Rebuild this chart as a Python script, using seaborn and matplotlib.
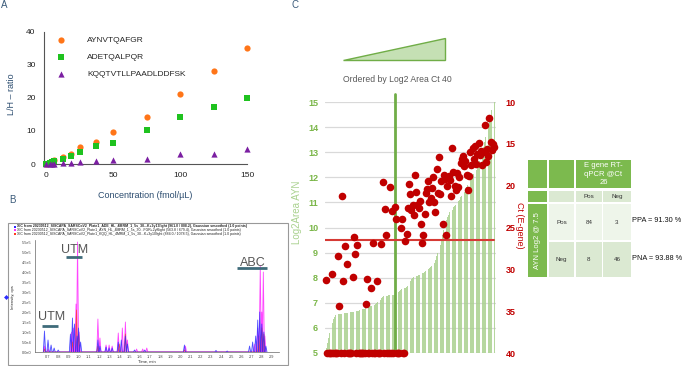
import numpy as np
import pandas as pd
import matplotlib
matplotlib.use("Agg")
import matplotlib.pyplot as plt
import seaborn as sns
from matplotlib.patches import Polygon, Rectangle

# ---------------- A: L/H ratio vs concentracao ----------------
CONC = [0, 3.125, 4.69, 6.25, 12.5, 18.75, 25, 37.5, 50, 75, 100, 125, 150]
LH_AYN = [0, 0.5, 1.0, 1.3, 2.1, 3.0, 5.0, 6.7, 9.6, 14.1, 21.3, 28.1, 35.2]
LH_ADE = [0, 0.3, 0.6, 0.8, 1.6, 2.3, 3.6, 5.5, 6.5, 10.3, 14.2, 17.2, 20.0]
LH_KQQ = [0, 0.0, 0.1, 0.1, 0.2, 0.4, 0.7, 0.8, 1.1, 1.5, 2.9, 3.0, 4.5]
PEPTIDES = ["AYNVTQAFGR", "ADETQALPQR", "KQQTVTLLPAADLDDFSK"]

# ---------------- B: picos dos XICs (tempo em min, intensidade em cps) ----------------
BLUE_T = [0.665, 0.70, 0.73, 0.76, 0.80, 0.92, 0.94, 0.96, 0.985, 1.00, 1.02,
          1.19, 1.21, 1.27, 1.30, 1.33, 1.39, 1.42, 1.46, 1.48, 1.55, 1.65,
          2.04, 2.35, 2.46, 2.68, 2.71, 2.74, 2.76, 2.78, 2.80, 2.82, 2.84]
BLUE_H = [1.05e5, 0.6e5, 0.35e5, 0.2e5, 0.1e5, 0.9e5, 1.7e5, 1.4e5, 0.8e5, 1.2e5, 0.5e5,
          0.6e5, 0.3e5, 0.25e5, 0.2e5, 0.2e5, 0.5e5, 0.6e5, 0.8e5, 0.4e5, 0.1e5, 0.1e5,
          0.35e5, 0.08e5, 0.05e5, 0.3e5, 0.5e5, 0.8e5, 1.6e5, 2.0e5, 1.4e5, 1.0e5, 0.3e5]
MAG_T = [0.665, 0.70, 0.93, 0.95, 0.975, 0.99, 1.005, 1.19, 1.21, 1.27, 1.30, 1.33,
         1.39, 1.43, 1.46, 1.48, 1.57, 1.63, 1.67, 2.05, 2.73, 2.76, 2.785, 2.80, 2.815, 2.83]
MAG_H = [0.3e5, 0.15e5, 1.0e5, 1.2e5, 2.4e5, 5.5e5, 1.0e5, 1.65e5, 0.7e5, 0.35e5, 0.35e5, 0.3e5,
         0.95e5, 1.2e5, 1.5e5, 0.6e5, 0.15e5, 0.15e5, 0.2e5, 0.3e5, 0.4e5, 1.2e5, 4.3e5, 2.0e5, 4.0e5, 0.8e5]
RED_T = [0.665, 0.94, 0.98, 1.00, 1.19, 1.40, 1.46, 2.04, 2.77, 2.80, 2.82]
RED_H = [0.15e5, 0.5e5, 2.1e5, 0.9e5, 0.3e5, 0.4e5, 0.9e5, 0.1e5, 0.8e5, 1.2e5, 0.9e5]
XIC_LABELS = [
    "XIC from 20230512_SISCAPA_SARSCoV2_Plate1_ADE_HL_4MRM_1_5s_30...K+3y13light (961.0 / 808.2), Gaussian smoothed (1.0 points)",
    "XIC from 20230512_SISCAPA_SARSCoV2_Plate1_AYN_HL_4MRM_1_5s_30...FGR+2y8light (563.8 / 679.4), Gaussian smoothed (1.0 points)",
    "XIC from 20230512_SISCAPA_SARSCoV2_Plate1_KQQ_HL_4MRM_1_5s_30...K+3y10light (884.0 / 1078.5), Gaussian smoothed (1.0 points)",
]

# ---------------- C: amostras ordenadas por Log2 area ----------------
AREA_LOG2 = [
    5.2, 5.4, 5.6, 5.8, 6.0, 6.2, 6.35, 6.45, 6.5, 6.52,
    6.55, 6.55, 6.56, 6.57, 6.58, 6.58, 6.59, 6.6, 6.6, 6.61,
    6.62, 6.62, 6.63, 6.64, 6.65, 6.66, 6.67, 6.69, 6.7, 6.72,
    6.74, 6.75, 6.77, 6.79, 6.8, 6.82, 6.84, 6.86, 6.88, 6.9,
    6.93, 6.96, 7.0, 7.04, 7.08, 7.13, 7.18, 7.23, 7.27, 7.28,
    7.29, 7.29, 7.3, 7.3, 7.3, 7.31, 7.31, 7.32, 7.32, 7.35,
    7.42, 7.46, 7.5, 7.53, 7.56, 7.58, 7.6, 7.62, 7.66, 7.75,
    7.85, 7.95, 8.0, 8.02, 8.04, 8.06, 8.08, 8.1, 8.12, 8.14,
    8.17, 8.2, 8.23, 8.26, 8.3, 8.34, 8.38, 8.42, 8.47, 8.52,
    8.6, 8.7, 8.85, 9.0, 9.15, 9.3, 9.5, 9.7, 9.9, 10.1,
    10.3, 10.4, 10.5, 10.6, 10.65, 10.7, 10.8, 10.85, 10.9, 11.0,
    11.05, 11.1, 11.2, 11.25, 11.3, 11.4, 11.5, 11.6, 11.7, 11.85,
    12.0, 12.05, 12.1, 12.15, 12.2, 12.3, 12.4, 12.5, 12.65, 12.8,
    13.0, 13.2, 13.4, 13.6, 13.9, 14.1, 14.3, 14.5, 14.7, 14.85,
    15.0]
CT_EGENE = [
    31.3, 40, 40, 40, 40, 30.5, 40, 40, 40, 40,
    28.4, 34.4, 40, 21.2, 31.4, 40, 27.2, 29.4, 40, 40,
    40, 40, 30.9, 26.1, 28.2, 40, 27.1, 40, 40, 40,
    40, 40, 40, 34.1, 31.1, 40, 40, 32.2, 40, 26.8,
    40, 40, 31.4, 40, 40, 40, 27.0, 19.6, 40, 22.8,
    25.9, 40, 40, 20.2, 40, 23.0, 40, 22.5, 24.0, 40,
    40, 40, 25.1, 24.0, 40, 40, 26.6, 25.8, 22.7, 19.8,
    21.0, 22.9, 22.3, 23.5, 18.7, 20.8, 22.3, 22.7, 21.8, 24.6,
    26.8, 25.9, 23.4, 20.9, 20.4, 19.5, 22.0, 21.5, 20.3, 19.0,
    21.9, 23.2, 18.0, 20.9, 16.6, 21.0, 19.4, 24.6, 18.7, 19.2,
    25.9, 20.0, 18.8, 19.3, 21.2, 15.5, 18.4, 20.0, 20.5, 18.5,
    20.2, 19.0, 17.3, 16.8, 16.4, 17.6, 17.0, 18.7, 20.5, 18.9,
    16.0, 17.5, 15.5, 16.8, 15.3, 17.4, 16.2, 14.9, 16.3, 15.8,
    17.5, 16.0, 12.7, 17.2, 15.6, 16.5, 11.9, 14.8, 15.7, 15.0,
    15.4]
AREA_CUTOFF_IDX = 57.5   # posicao da linha verde (Log2 @ 7.5)
CT_CUTOFF = 26.5
TABLE_COUNTS = [[84, 3], [8, 46]]
TABLE_ROWS = ["Pos", "Neg"]
TABLE_COLS = ["Pos", "Neg"]
PPA_TEXT = "PPA = 91.30 %"
PNA_TEXT = "PNA = 93.88 %"

# ---------------- estilo ----------------
W, H = 685, 366
PEP_COLORS = ["#ff7518", "#1fc21f", "#7b1fa2"]
PEP_MARKERS = ["o", "s", "^"]
LABEL_BLUE = "#2b4c6f"
GREEN = "#77b84c"
LIGHT_GREEN = "#a9d18e"
DARK_RED = "#c00000"

sns.set_style("white")
plt.rcParams["font.family"] = ["Liberation Sans", "DejaVu Sans"]

fig = plt.figure(figsize=(W / 100, H / 100), dpi=100)


def px_axes(left, top, right, bottom):
    return fig.add_axes([left / W, 1 - bottom / H, (right - left) / W, (bottom - top) / H])


def spikes(times, heights, w=0.011):
    xs, ys = [], []
    for t, h in zip(times, heights):
        xs += [t - w, t, t + w]
        ys += [0, h, 0]
    return xs, ys


# ======== Painel A ========
axa = px_axes(44, 29, 250, 164)
for name, vals, c, m in zip(PEPTIDES, [LH_AYN, LH_ADE, LH_KQQ], PEP_COLORS, PEP_MARKERS):
    sns.scatterplot(x=CONC, y=vals, color=c, marker=m, s=20, linewidth=0,
                    ax=axa, label=name, clip_on=False, zorder=3)
axa.set_xlim(-1.5, 152.2)
axa.set_ylim(0, 40.9)
axa.set_xticks([0, 50, 100, 150])
axa.set_yticks([0, 10, 20, 30, 40])
for s in ["top", "right"]:
    axa.spines[s].set_visible(False)
axa.spines["left"].set_bounds(0, 40)
axa.spines["bottom"].set_bounds(-1.5, 150)
for s in ["left", "bottom"]:
    axa.spines[s].set_color("#555555")
    axa.spines[s].set_linewidth(0.8)
axa.tick_params(length=4.5, width=0.8, color="#555555", labelsize=6, labelcolor="#222222", pad=1.5)
axa.set_xlabel("Concentration (fmol/µL)", color=LABEL_BLUE, fontsize=6.5, va="center")
axa.xaxis.set_label_coords(0.49, -0.23)
axa.set_ylabel("L/H – ratio", color=LABEL_BLUE, fontsize=6.5, va="center")
axa.yaxis.set_label_coords(-0.16, 0.52)
axa.legend(loc="upper left", bbox_to_anchor=(0.063, 0.948), frameon=False, fontsize=6,
           handlelength=1, handletextpad=2.6, labelspacing=1.1, borderpad=0, borderaxespad=0)

# ======== Painel B ========
axb = px_axes(35, 240, 279, 352)
for times, heights, c, a in [(MAG_T, MAG_H, "#ff2bff", 0.85), (RED_T, RED_H, "#ff3b1f", 0.8),
                             (BLUE_T, BLUE_H, "#2b2bff", 0.8)]:
    xs, ys = spikes(times, heights)
    axb.fill(xs, ys, color=c, alpha=0.25, lw=0)
    sns.lineplot(x=xs, y=ys, sort=False, estimator=None, color=c, lw=0.6, alpha=a, ax=axb)
axb.set_xlim(0.572, 2.969)
axb.set_ylim(0, 5.6e5)
xt = np.round(np.arange(0.7, 2.91, 0.1), 1)
axb.set_xticks(xt)
axb.set_xticklabels([f"{v:.1f}" for v in xt])
yt = np.arange(0, 5.51e5, 5e4)
axb.set_yticks(yt)
axb.set_yticklabels([f"{v:.1e}".replace("e+0", "e").replace("e+", "e") for v in yt])
axb.tick_params(labelsize=2.8, length=1.5, width=0.4, pad=1, labelcolor="#444444")
for s in ["top", "right"]:
    axb.spines[s].set_visible(False)
for s in ["left", "bottom"]:
    axb.spines[s].set_linewidth(0.5)
    axb.spines[s].set_color("#666666")
axb.set_xlabel("Time, min", fontsize=3, va="center")
axb.xaxis.set_label_coords(0.46, -0.089)
axb.set_ylabel("Intensity, cps", fontsize=3, va="center")
axb.yaxis.set_label_coords(-0.09, 0.49)
for txt, tx, ty, x0, x1, by in [("UTM", 0.96, 5.1e5, 0.877, 1.034, 4.75e5),
                                ("UTM", 0.73, 1.75e5, 0.64, 0.80, 1.3e5),
                                ("ABC", 2.71, 4.45e5, 2.556, 2.85, 4.2e5)]:
    axb.text(tx, ty, txt, ha="center", va="center", fontsize=9, color="#555555")
    axb.plot([x0, x1], [by, by], color="#3f6b7a", lw=2, solid_capstyle="butt")

# ======== Painel C ========
axc = px_axes(325, 102, 496, 353)
idx = np.arange(len(AREA_LOG2))
sns.barplot(x=idx, y=AREA_LOG2, color=LIGHT_GREEN, width=0.8, saturation=1,
            alpha=0.85, edgecolor="none", ax=axc)
axc.set_ylim(5, 15)
axc.set_yticks(range(5, 16))
axc.set_axisbelow(True)
axc.yaxis.grid(True, color="#d9d9d9", lw=0.9)
axc.set_xticks([])
axc.set_xlabel("")
axc.tick_params(axis="y", length=0, labelsize=6.5, labelcolor="#7ab648", pad=5)
for lbl in axc.get_yticklabels():
    lbl.set_fontweight("bold")
axc.axvline(AREA_CUTOFF_IDX, ymin=0, ymax=1.03, color="#70ad47", lw=2, clip_on=False, zorder=3)

axr = axc.twinx()
axr.axhline(CT_CUTOFF, xmin=0, xmax=0.99, color="#d63a35", lw=1.5, zorder=1)
sns.scatterplot(x=idx, y=CT_EGENE, color=DARK_RED, s=30, linewidth=0, ax=axr,
                clip_on=False, zorder=4)
axr.set_ylim(40, 10)
axr.set_yticks(range(10, 41, 5))
axr.set_xlim(-1, 141.5)
axr.tick_params(axis="y", length=0, labelsize=6.5, labelcolor=DARK_RED, pad=7)
for lbl in axr.get_yticklabels():
    lbl.set_fontweight("bold")
for ax in [axc, axr]:
    for s in ax.spines.values():
        s.set_visible(False)
axc.set_ylabel("Log2Area AYN", color=LIGHT_GREEN, fontsize=7, va="center")
axc.yaxis.set_label_coords(-0.165, 0.56)
axr.set_ylabel("Ct (E-gene)", color=DARK_RED, fontsize=6.5, rotation=270, va="center")
axr.yaxis.set_label_coords(1.135, 0.51)

# ======== Sobreposicao: letras, cunha, moldura B, tabela ========
ov = fig.add_axes([0, 0, 1, 1])
ov.set_xlim(0, W)
ov.set_ylim(H, 0)
ov.axis("off")
ov.patch.set_visible(False)

for lt, x, y in [("A", 4, 5), ("B", 12.5, 200), ("C", 295, 5)]:
    ov.text(x, y, lt, fontsize=7, color="#3b5b7a", ha="center", va="center")

ov.add_patch(Polygon([(343, 60), (445, 60), (445, 38)], closed=True,
                     fc="#c5e0b4", ec="#70ad47", lw=1))
ov.text(397, 79, "Ordered by Log2 Area Ct 40", fontsize=6.2, color="#595959",
        ha="center", va="center")

# moldura do cromatograma
ov.add_patch(Rectangle((8, 223), 280, 142, fill=False, ec="#999999", lw=0.8))
for i, (lab, c) in enumerate(zip(XIC_LABELS, ["#2b2bff", "#ff2bff", "#ff3b1f"])):
    y = 226.5 + i * 3.6
    ov.plot(15, y, marker="s", ms=1.6, color=c, mew=0)
    ov.text(17.5, y, lab, fontsize=2.5, va="center", ha="left", color="#222222",
            fontweight="bold" if i == 0 else "normal")
ov.plot(6, 297, marker="D", ms=2.5, color="#2b2bff", mew=0)


def cell(x0, y0, x1, y1, fc, text=None, color="#333333", fs=4.5, rot=0):
    ov.add_patch(Rectangle((x0, y0), x1 - x0, y1 - y0, fc=fc, ec="none"))
    if text is not None:
        ov.text((x0 + x1) / 2, (y0 + y1) / 2, text, ha="center", va="center",
                fontsize=fs, color=color, rotation=rot, linespacing=1.3)


C1, C2, C3, C4 = (528, 547), (549, 574), (576, 602), (603, 631)
R1, R2, R3, R4 = (160, 188), (191, 202), (204, 240), (242, 277)
TG, TL1, TL2 = "#7cba4e", "#eef5ea", "#dbe9d2"
cell(C1[0], R1[0], C1[1], R1[1], TG)
cell(C2[0], R1[0], C2[1], R1[1], TG)
cell(C3[0], R1[0], C4[1], R1[1], TG, "E gene RT-\nqPCR @Ct\n26", "white", 5.5)
cell(C1[0], R2[0], C1[1], R2[1], TG)
cell(C2[0], R2[0], C2[1], R2[1], TL2)
cell(C3[0], R2[0], C3[1], R2[1], TL2, TABLE_COLS[0])
cell(C4[0], R2[0], C4[1], R2[1], TL2, TABLE_COLS[1])
cell(C1[0], R3[0], C1[1], R4[1], TG, "AYN Log2 @ 7.5", "white", 5.5, 90)
for (r0, r1), fc, rlab, counts in [(R3, TL1, TABLE_ROWS[0], TABLE_COUNTS[0]),
                                   (R4, TL2, TABLE_ROWS[1], TABLE_COUNTS[1])]:
    cell(C2[0], r0, C2[1], r1, fc, rlab)
    cell(C3[0], r0, C3[1], r1, fc, str(counts[0]))
    cell(C4[0], r0, C4[1], r1, fc, str(counts[1]))
ov.text(632, 220, PPA_TEXT, fontsize=5.3, ha="left", va="center", color="#111111")
ov.text(632, 259, PNA_TEXT, fontsize=5.3, ha="left", va="center", color="#111111")

fig.savefig("out.png", dpi=100)
